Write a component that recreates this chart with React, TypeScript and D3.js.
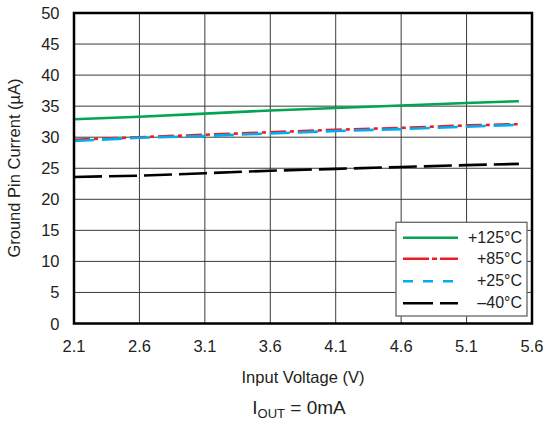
import React from "react";
import * as d3 from "d3";

const voltages = [2.1, 2.6, 3.1, 3.6, 4.1, 4.6, 5.1, 5.5];
const s125 = [32.9, 33.3, 33.8, 34.3, 34.7, 35.1, 35.5, 35.8];
const s85 = [29.6, 30.0, 30.4, 30.8, 31.2, 31.5, 31.9, 32.1];
const s25 = [29.4, 29.9, 30.2, 30.6, 31.0, 31.3, 31.7, 32.0];
const sm40 = [23.6, 23.8, 24.2, 24.6, 24.9, 25.2, 25.5, 25.7];
const xTicks = [2.1, 2.6, 3.1, 3.6, 4.1, 4.6, 5.1, 5.6];
const yTicks = [0, 5, 10, 15, 20, 25, 30, 35, 40, 45, 50];
const seriesNames = ["+125°C", "+85°C", "+25°C", "\u201340°C"];

const W = 544, H = 424;
const M = { left: 74, right: 532, top: 13, bottom: 323.5 };
const font = "'Liberation Sans', Arial, sans-serif";

export default function App() {
  const x = d3.scaleLinear().domain([2.1, 5.6]).range([M.left, M.right]);
  const y = d3.scaleLinear().domain([0, 50]).range([M.bottom, M.top]);
  const line = d3.line<number>().x((_, i) => x(voltages[i])).y((d) => y(d));

  const series = [
    { name: seriesNames[0], data: s125, color: "#00a651", dash: "none", legDash: "none" },
    { name: seriesNames[1], data: s85, color: "#ed1c24", dash: "16,4,4,4", legDash: "26,3,5,3" },
    { name: seriesNames[2], data: s25, color: "#00aeef", dash: "20,8", legDash: "10,10" },
    { name: seriesNames[3], data: sm40, color: "#000000", dash: "28,7", legDash: "30,7" },
  ];
  const drawOrder = [0, 1, 2, 3];

  const legY = [237.7, 258.7, 281.3, 303.3];

  return (
    <svg width={W} height={H} style={{ position: "absolute", left: 0, top: 0, background: "#fff" }} fontFamily={font}>
      <rect x={0} y={0} width={W} height={H} fill="#fff" />
      {/* grid */}
      {yTicks.map((t) => (
        <line key={"gy" + t} x1={M.left} x2={M.right} y1={y(t)} y2={y(t)} stroke="#3a3a3a" strokeWidth={1} />
      ))}
      {xTicks.map((t) => (
        <line key={"gx" + t} x1={x(t)} x2={x(t)} y1={M.top} y2={M.bottom} stroke="#3a3a3a" strokeWidth={1} />
      ))}
      {/* series */}
      {drawOrder.map((i) => {
        const s = series[i];
        return (
          <path key={s.name} d={line(s.data) || ""} fill="none" stroke={s.color} strokeWidth={2.6}
            strokeDasharray={s.dash === "none" ? undefined : s.dash} />
        );
      })}
      {/* border */}
      <rect x={M.left} y={M.top} width={M.right - M.left} height={M.bottom - M.top} fill="none" stroke="#000" strokeWidth={2.5} />
      {/* legend */}
      <rect x={396} y={222.3} width={131} height={93.7} fill="#fff" stroke="#666" strokeWidth={1.3} />
      {series.map((s, i) => (
        <g key={"leg" + i}>
          <line x1={403} x2={458} y1={legY[i]} y2={legY[i]} stroke={s.color} strokeWidth={2.6}
            strokeDasharray={s.legDash === "none" ? undefined : s.legDash} />
          <text x={522} y={legY[i] + 5} textAnchor="end" fontSize={16} fill="#231f20">{s.name}</text>
        </g>
      ))}
      {/* y tick labels */}
      {yTicks.map((t) => (
        <text key={"yl" + t} x={59.5} y={y(t) + 6} textAnchor="end" fontSize={16.5} fill="#231f20">{t}</text>
      ))}
      {/* x tick labels */}
      {xTicks.map((t) => (
        <text key={"xl" + t} x={x(t)} y={352} textAnchor="middle" fontSize={16.5} fill="#231f20">{t.toFixed(1)}</text>
      ))}
      {/* axis titles */}
      <text x={303} y={383} textAnchor="middle" fontSize={16.5} fill="#231f20">Input Voltage (V)</text>
      <text transform={`translate(20,168) rotate(-90)`} textAnchor="middle" fontSize={16.5} fill="#231f20">Ground Pin Current (µA)</text>
      <text x={299} y={414} textAnchor="middle" fontSize={19} fill="#231f20">
        I<tspan fontSize={13} dy={4}>OUT</tspan><tspan dy={-4}> = 0mA</tspan>
      </text>
    </svg>
  );
}
